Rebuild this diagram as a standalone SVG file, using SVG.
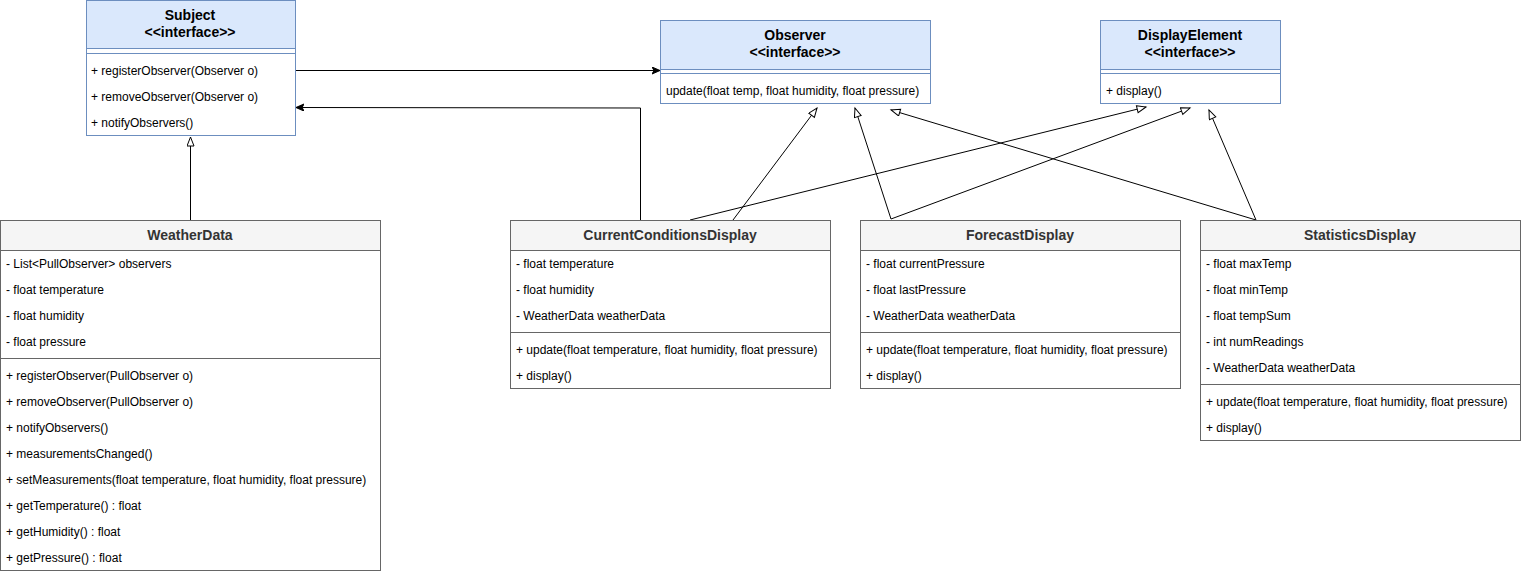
<svg xmlns="http://www.w3.org/2000/svg" width="1521" height="574" viewBox="0 0 1521 574">
<style>
text { font-family: "Liberation Sans", Arial, Helvetica, sans-serif; font-size: 12px; fill: #000000; }
.title { font-size: 14px; font-weight: bold; text-anchor: middle; }
.ititle { font-size: 14px; font-weight: bold; text-anchor: middle; fill: #000000; }
.ctitle { font-size: 14px; font-weight: bold; text-anchor: middle; fill: #333333; }
.ibox { fill: #ffffff; stroke: #6c8ebf; stroke-width: 1; }
.ihead { fill: #dae8fc; stroke: #6c8ebf; stroke-width: 1; }
.isep { stroke: #6c8ebf; stroke-width: 1; }
.cbox { fill: #ffffff; stroke: #666666; stroke-width: 1; }
.chead { fill: #f5f5f5; stroke: #666666; stroke-width: 1; }
.csep { stroke: #666666; stroke-width: 1; }
.edge { fill: none; stroke: #000000; stroke-width: 1; }
</style>
<defs>
<marker id="hollow" markerUnits="userSpaceOnUse" markerWidth="12" markerHeight="10" refX="10" refY="4" orient="auto">
<path d="M1,0.5 L10,4 L1,7.5 Z" fill="#ffffff" stroke="#000000" stroke-width="1"/>
</marker>
<marker id="filled" markerUnits="userSpaceOnUse" markerWidth="10" markerHeight="8" refX="8" refY="4" orient="auto">
<path d="M0,0.5 L8,4 L0,7.5 L2,4 Z" fill="#000000" stroke="#000000" stroke-width="1"/>
</marker>
</defs>

<g id="connectors">
<path class="edge" d="M190.5,220 L190.5,137" marker-end="url(#hollow)"/>
<path class="edge" d="M296,70.5 L660,70.5" marker-end="url(#filled)"/>
<path class="edge" d="M640.5,220 L640.5,108 L296,107.5" marker-end="url(#filled)"/>
<path class="edge" d="M733,220 L817,108" marker-end="url(#hollow)"/>
<path class="edge" d="M690,220 L1146,107" marker-end="url(#hollow)"/>
<path class="edge" d="M891,219 L855,108" marker-end="url(#hollow)"/>
<path class="edge" d="M891,219 L1190,108" marker-end="url(#hollow)"/>
<path class="edge" d="M1256,220 L891,110" marker-end="url(#hollow)"/>
<path class="edge" d="M1256,220 L1209,110" marker-end="url(#hollow)"/>
</g>

<g id="subject">
<rect class="ibox" x="86.5" y="0.5" width="209" height="135"/>
<rect class="ihead" x="86.5" y="0.5" width="209" height="48"/>
<line class="isep" x1="86.5" y1="53.5" x2="295.5" y2="53.5"/>
<text class="ititle" x="190" y="20">Subject</text>
<text class="ititle" x="190" y="37">&lt;&lt;interface&gt;&gt;</text>
<text x="91" y="75">+ registerObserver(Observer o)</text>
<text x="91" y="101">+ removeObserver(Observer o)</text>
<text x="91" y="127">+ notifyObservers()</text>
</g>

<g id="observer">
<rect class="ibox" x="660.5" y="20.5" width="270" height="83"/>
<rect class="ihead" x="660.5" y="20.5" width="270" height="49"/>
<line class="isep" x1="660.5" y1="73.5" x2="930.5" y2="73.5"/>
<text class="ititle" x="795" y="40">Observer</text>
<text class="ititle" x="795" y="57">&lt;&lt;interface&gt;&gt;</text>
<text x="666" y="95">update(float temp, float humidity, float pressure)</text>
</g>

<g id="displayelement">
<rect class="ibox" x="1100.5" y="20.5" width="180" height="83"/>
<rect class="ihead" x="1100.5" y="20.5" width="180" height="49"/>
<line class="isep" x1="1100.5" y1="73.5" x2="1280.5" y2="73.5"/>
<text class="ititle" x="1190" y="40">DisplayElement</text>
<text class="ititle" x="1190" y="57">&lt;&lt;interface&gt;&gt;</text>
<text x="1106" y="95">+ display()</text>
</g>

<g id="weatherdata">
<rect class="cbox" x="0.5" y="220.5" width="380" height="350"/>
<rect class="chead" x="0.5" y="220.5" width="380" height="30"/>
<line class="csep" x1="0.5" y1="358.5" x2="380.5" y2="358.5"/>
<text class="ctitle" x="190" y="240">WeatherData</text>
<text x="6" y="268">- List&lt;PullObserver&gt; observers</text>
<text x="6" y="294">- float temperature</text>
<text x="6" y="320">- float humidity</text>
<text x="6" y="346">- float pressure</text>
<text x="6" y="380">+ registerObserver(PullObserver o)</text>
<text x="6" y="406">+ removeObserver(PullObserver o)</text>
<text x="6" y="432">+ notifyObservers()</text>
<text x="6" y="458">+ measurementsChanged()</text>
<text x="6" y="484">+ setMeasurements(float temperature, float humidity, float pressure)</text>
<text x="6" y="510">+ getTemperature() : float</text>
<text x="6" y="536">+ getHumidity() : float</text>
<text x="6" y="562">+ getPressure() : float</text>
</g>

<g id="currentconditionsdisplay">
<rect class="cbox" x="510.5" y="220.5" width="320" height="168"/>
<rect class="chead" x="510.5" y="220.5" width="320" height="30"/>
<line class="csep" x1="510.5" y1="332.5" x2="830.5" y2="332.5"/>
<text class="ctitle" x="670" y="240">CurrentConditionsDisplay</text>
<text x="516" y="268">- float temperature</text>
<text x="516" y="294">- float humidity</text>
<text x="516" y="320">- WeatherData weatherData</text>
<text x="516" y="354">+ update(float temperature, float humidity, float pressure)</text>
<text x="516" y="380">+ display()</text>
</g>

<g id="forecastdisplay">
<rect class="cbox" x="860.5" y="220.5" width="320" height="168"/>
<rect class="chead" x="860.5" y="220.5" width="320" height="30"/>
<line class="csep" x1="860.5" y1="332.5" x2="1180.5" y2="332.5"/>
<text class="ctitle" x="1020" y="240">ForecastDisplay</text>
<text x="866" y="268">- float currentPressure</text>
<text x="866" y="294">- float lastPressure</text>
<text x="866" y="320">- WeatherData weatherData</text>
<text x="866" y="354">+ update(float temperature, float humidity, float pressure)</text>
<text x="866" y="380">+ display()</text>
</g>

<g id="statisticsdisplay">
<rect class="cbox" x="1200.5" y="220.5" width="320" height="220"/>
<rect class="chead" x="1200.5" y="220.5" width="320" height="30"/>
<line class="csep" x1="1200.5" y1="384.5" x2="1520.5" y2="384.5"/>
<text class="ctitle" x="1360" y="240">StatisticsDisplay</text>
<text x="1206" y="268">- float maxTemp</text>
<text x="1206" y="294">- float minTemp</text>
<text x="1206" y="320">- float tempSum</text>
<text x="1206" y="346">- int numReadings</text>
<text x="1206" y="372">- WeatherData weatherData</text>
<text x="1206" y="406">+ update(float temperature, float humidity, float pressure)</text>
<text x="1206" y="432">+ display()</text>
</g>
</svg>
